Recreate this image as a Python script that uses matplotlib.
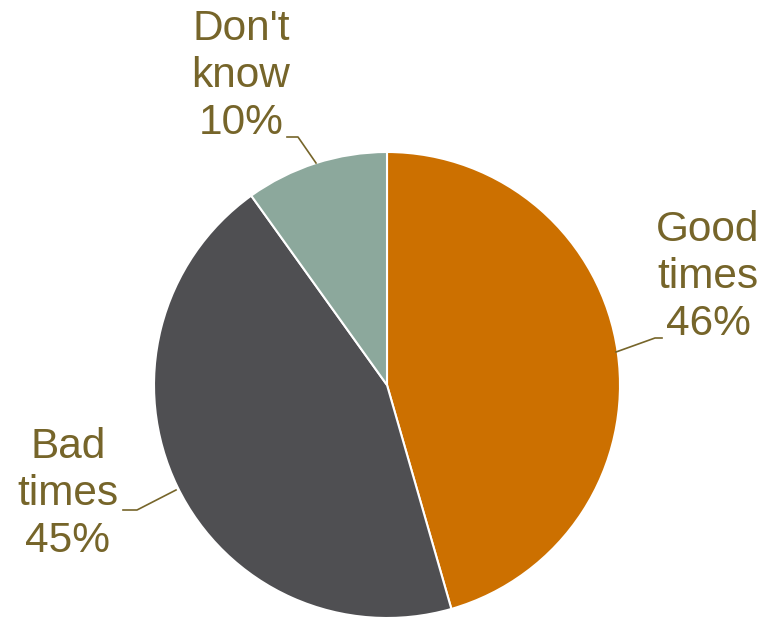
import matplotlib
matplotlib.use("Agg")
import matplotlib.pyplot as plt

categories = ["Good times", "Bad times", "Don't know"]
values = [46, 45, 10]
colors = ["#CC7000", "#4F4F52", "#8CA89C"]
label_color = "#76652A"

W, H = 779, 622
fig = plt.figure(figsize=(W / 100, H / 100), dpi=100)
ax = fig.add_axes([0, 0, 1, 1])

cx, cy, r = 387, H - 385, 233
ax.pie(values, colors=colors, startangle=90, counterclock=False,
       center=(cx, cy), radius=r, frame=True,
       wedgeprops=dict(edgecolor="white", linewidth=1.5))
ax.set_xlim(0, W)
ax.set_ylim(0, H)
ax.set_aspect("equal")
ax.axis("off")

font = dict(family=["Liberation Sans", "DejaVu Sans"], fontsize=30.5,
            color=label_color, ha="center", va="center", linespacing=1.22)

texts = [f"{c.replace(' ', chr(10))}\n{v}%" for c, v in zip(categories, values)]
text_pos = [(708, H - 277), (68, H - 494), (241, H - 76)]
leaders = [
    [(616, 352), (655, 338), (662, 338)],
    [(176, 490), (137, 510), (123, 510)],
    [(316, 163), (298, 137), (287, 137)],
]
for t, (tx, ty), pts in zip(texts, text_pos, leaders):
    ax.text(tx, ty, t, **font)
    xs = [p[0] for p in pts]
    ys = [H - p[1] for p in pts]
    ax.plot(xs, ys, color=label_color, linewidth=1.2)

fig.savefig("out.png", dpi=100)
